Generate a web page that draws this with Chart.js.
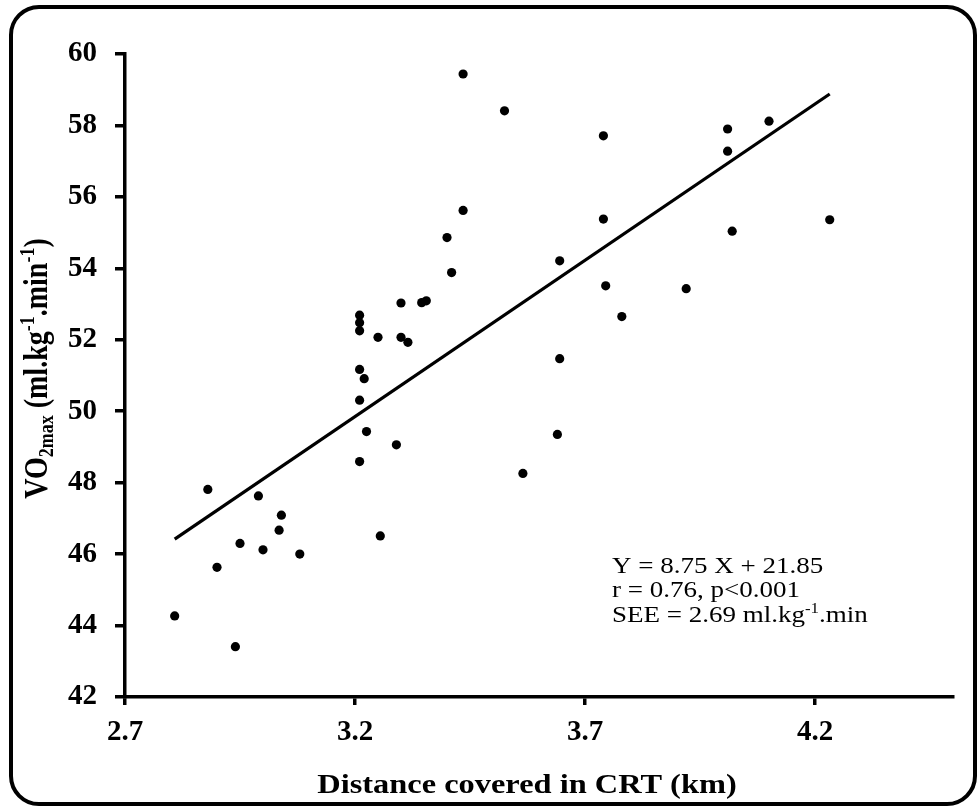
<!DOCTYPE html>
<html>
<head>
<meta charset="utf-8">
<script src="https://cdn.jsdelivr.net/npm/chart.js@4.4.0/dist/chart.umd.min.js"></script>
<style>
  html, body { margin: 0; padding: 0; background: #fff; }
</style>
</head>
<body>
<canvas id="grafico" width="979" height="809"></canvas>
<script>
// distância percorrida (km) e VO2max de cada sujeito
const distancia = [2.808, 2.88, 2.99, 3.04, 3.035, 2.95, 3.00, 3.08, 2.90, 2.94,
  3.21, 3.21, 3.21, 3.25, 3.30, 3.345, 3.355, 3.30, 3.315, 3.21, 3.22, 3.21, 3.225, 3.29, 3.21, 3.255,
  3.435, 3.525, 3.74, 3.435, 3.40, 3.41, 3.74, 3.645, 3.745, 3.78,
  4.01, 4.01, 4.10, 4.02, 4.232, 3.92,
  3.645, 3.64, 3.565];
const vo2 = [44.27, 47.81, 47.63, 47.09, 46.67, 46.30, 46.12, 46.00, 45.63, 43.41,
  52.69, 52.48, 52.25, 52.07, 53.03, 53.04, 53.09, 52.07, 51.93, 51.17, 50.91, 50.31, 49.43, 49.06, 48.59, 46.51,
  59.44, 58.41, 57.71, 55.62, 54.86, 53.88, 55.38, 54.21, 53.51, 52.65,
  57.90, 57.28, 58.12, 55.04, 55.36, 53.43,
  51.47, 49.35, 48.26];

const xTicks = [2.7, 3.2, 3.7, 4.2];
const yTicks = [42, 44, 46, 48, 50, 52, 54, 56, 58, 60];

// reta de regressão
const slope = 8.75;
const intercept = 21.85;
const r = '0.76';
const p = 'p<0.001';
const see = '2.69';

const ctx = document.getElementById('grafico');
const serif = '"Liberation Serif", "Times New Roman", serif';
const esticar = 1.2; // o texto original é mais largo

const pontos = distancia.map((x, i) => ({ x: x, y: vo2[i] }));
const xMin = Math.min(...distancia);
const xMax = Math.max(...distancia);
const reta = [xMin, xMax].map(x => ({ x: x, y: slope * x + intercept }));

// escreve pedaços de texto com fontes/deslocamentos diferentes
function largura(c, lista) {
  let w = 0;
  lista.forEach(p => { c.font = p.f; w += c.measureText(p.t).width; });
  return w;
}
function escrever(c, lista, x, y) {
  let cx = x;
  lista.forEach(p => {
    c.font = p.f;
    c.fillText(p.t, cx, y + (p.dy || 0));
    cx += c.measureText(p.t).width;
  });
}

const textos = {
  id: 'textos',
  beforeDraw(chart) {
    const c = chart.ctx;
    // moldura arredondada
    c.save();
    c.strokeStyle = '#000';
    c.lineWidth = 4;
    const l = 11, t = 7, rr = 975, b = 804, rad = 28;
    c.beginPath();
    c.moveTo(l + rad, t);
    c.arcTo(rr, t, rr, b, rad);
    c.arcTo(rr, b, l, b, rad);
    c.arcTo(l, b, l, t, rad);
    c.arcTo(l, t, rr, t, rad);
    c.closePath();
    c.stroke();
    c.restore();
  },
  afterDraw(chart) {
    const c = chart.ctx;
    const area = chart.chartArea;
    c.save();
    c.fillStyle = '#000';
    c.textBaseline = 'alphabetic';

    // título do eixo x
    c.save();
    c.translate(527, 793);
    c.scale(esticar, 1);
    c.textAlign = 'center';
    c.font = 'bold 27px ' + serif;
    c.fillText('Distance covered in CRT (km)', 0, 0);
    c.restore();

    // título do eixo y
    const big = 'bold 28px ' + serif;
    const small = 'bold 18px ' + serif;
    const ytit = [
      { t: 'VO', f: big },
      { t: '2max', f: small, dy: 5 },
      { t: ' (ml.kg', f: big },
      { t: '-1', f: small, dy: -11 },
      { t: '.min', f: big },
      { t: '-1', f: small, dy: -11 },
      { t: ')', f: big }
    ];
    c.save();
    c.translate(47, (area.top + area.bottom) / 2 - 7);
    c.rotate(-Math.PI / 2);
    c.scale(1, esticar);
    c.textAlign = 'left';
    const w = largura(c, ytit);
    escrever(c, ytit, -w / 2, 0);
    c.restore();

    // equação
    const reg = '22.5px ' + serif;
    const sup = '14px ' + serif;
    c.save();
    c.translate(612, 0);
    c.scale(esticar, 1);
    c.textAlign = 'left';
    c.font = reg;
    c.fillText('Y = ' + slope + ' X + ' + intercept, 0, 573);
    c.fillText('r = ' + r + ', ' + p, 0, 597);
    escrever(c, [
      { t: 'SEE = ' + see + ' ml.kg', f: reg },
      { t: '-1', f: sup, dy: -9 },
      { t: '.min', f: reg }
    ], 0, 622);
    c.restore();

    c.restore();
  }
};

new Chart(ctx, {
  type: 'scatter',
  data: {
    datasets: [{
      label: 'VO2max',
      data: pontos,
      backgroundColor: '#000',
      borderColor: '#000',
      borderWidth: 0,
      pointRadius: 4.6
    }, {
      label: 'Regressão',
      data: reta,
      showLine: true,
      fill: false,
      borderColor: '#000',
      borderWidth: 3.2,
      pointRadius: 0
    }]
  },
  options: {
    responsive: false,
    animation: false,
    layout: { padding: { top: 54, right: 26, bottom: 0, left: 0 } },
    plugins: {
      legend: { display: false },
      tooltip: { enabled: false }
    },
    scales: {
      x: {
        type: 'linear',
        min: 2.7,
        max: 4.5,
        afterBuildTicks: s => { s.ticks = xTicks.map(v => ({ value: v })); },
        afterFit: s => { s.height = 112; },
        grid: { drawOnChartArea: false, drawTicks: true, tickLength: 8, color: '#000', lineWidth: 3.5 },
        border: { color: '#000', width: 3.5 },
        ticks: {
          color: '#000',
          padding: 10,
          maxRotation: 0,
          font: { family: serif, size: 29, weight: 'bold' },
          callback: v => v.toFixed(1)
        }
      },
      y: {
        type: 'linear',
        min: 42,
        max: 60,
        afterBuildTicks: s => { s.ticks = yTicks.map(v => ({ value: v })); },
        afterFit: s => { s.width = 125; },
        grid: { drawOnChartArea: false, drawTicks: true, tickLength: 10, color: '#000', lineWidth: 3.5 },
        border: { color: '#000', width: 3.5 },
        ticks: {
          color: '#000',
          padding: 18,
          font: { family: serif, size: 29, weight: 'bold' },
          callback: v => v
        }
      }
    }
  },
  plugins: [textos]
});
</script>
</body>
</html>
